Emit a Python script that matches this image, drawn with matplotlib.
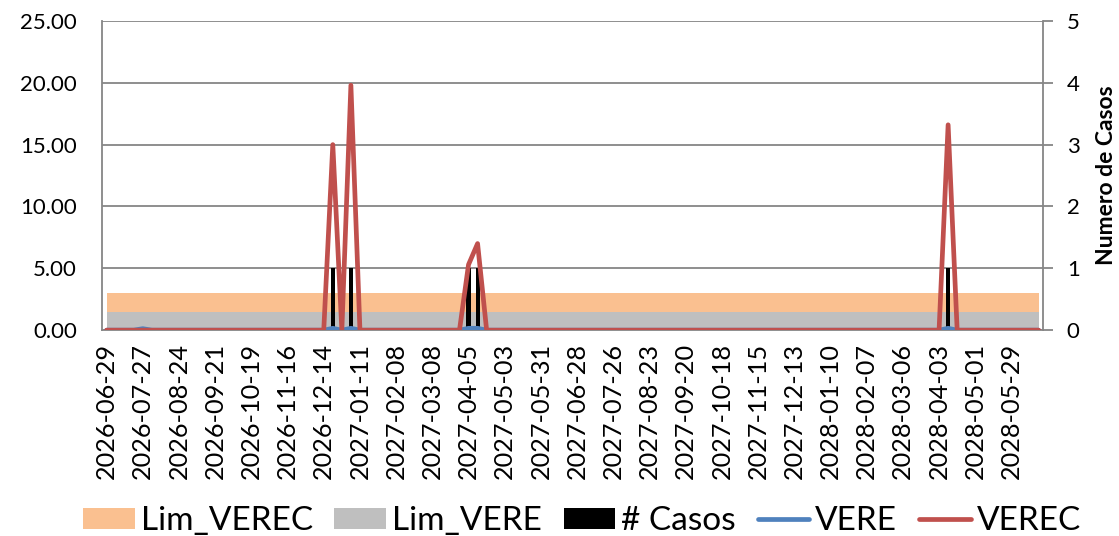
import matplotlib
matplotlib.use("Agg")
import matplotlib.pyplot as plt
from matplotlib.patches import Patch
from matplotlib.lines import Line2D
import numpy as np
import pandas as pd

plt.rcParams['font.family'] = ['Lato', 'DejaVu Sans']

# Weekly categories (104 weeks)
dates = pd.date_range('2026-06-29', periods=104, freq='7D').strftime('%Y-%m-%d').tolist()

# Limits (left axis)
lim_verec = [3.0] * 104
lim_vere = [1.5] * 104

# Number of cases (right axis)
casos = [0, 0, 0, 0, 0, 0, 0, 0, 0, 0, 0, 0, 0,
         0, 0, 0, 0, 0, 0, 0, 0, 0, 0, 0, 0, 1,
         0, 1, 0, 0, 0, 0, 0, 0, 0, 0, 0, 0, 0,
         0, 1, 1, 0, 0, 0, 0, 0, 0, 0, 0, 0, 0,
         0, 0, 0, 0, 0, 0, 0, 0, 0, 0, 0, 0, 0,
         0, 0, 0, 0, 0, 0, 0, 0, 0, 0, 0, 0, 0,
         0, 0, 0, 0, 0, 0, 0, 0, 0, 0, 0, 0, 0,
         0, 0, 1, 0, 0, 0, 0, 0, 0, 0, 0, 0, 0]

# VERE (left axis)
vere = [0, 0, 0, 0, 0.12, 0, 0, 0, 0, 0, 0, 0, 0,
        0, 0, 0, 0, 0, 0, 0, 0, 0, 0, 0, 0, 0.15,
        0, 0.15, 0, 0, 0, 0, 0, 0, 0, 0, 0, 0, 0,
        0, 0.15, 0.15, 0, 0, 0, 0, 0, 0, 0, 0, 0, 0,
        0, 0, 0, 0, 0, 0, 0, 0, 0, 0, 0, 0, 0,
        0, 0, 0, 0, 0, 0, 0, 0, 0, 0, 0, 0, 0,
        0, 0, 0, 0, 0, 0, 0, 0, 0, 0, 0, 0, 0,
        0, 0, 0.15, 0, 0, 0, 0, 0, 0, 0, 0, 0, 0]

# VEREC (left axis)
verec = [0, 0, 0, 0, 0, 0, 0, 0, 0, 0, 0, 0, 0,
         0, 0, 0, 0, 0, 0, 0, 0, 0, 0, 0, 0, 15.0,
         0, 19.8, 0, 0, 0, 0, 0, 0, 0, 0, 0, 0, 0,
         0, 5.3, 7.0, 0, 0, 0, 0, 0, 0, 0, 0, 0, 0,
         0, 0, 0, 0, 0, 0, 0, 0, 0, 0, 0, 0, 0,
         0, 0, 0, 0, 0, 0, 0, 0, 0, 0, 0, 0, 0,
         0, 0, 0, 0, 0, 0, 0, 0, 0, 0, 0, 0, 0,
         0, 0, 16.6, 0, 0, 0, 0, 0, 0, 0, 0, 0, 0]

c_orange = '#FAC090'
c_gray = '#BFBFBF'
c_blue = '#4F81BD'
c_red = '#C0504D'
c_axis = '#868686'

x = np.arange(len(dates))

fig = plt.figure(figsize=(11.19, 5.36), dpi=100)
ax = fig.add_axes([0.0912, 0.384, 0.841, 0.577])

# areas
ax.fill_between(x, 0, lim_verec, color=c_orange, linewidth=0, zorder=1)
ax.fill_between(x, 0, lim_vere, color=c_gray, linewidth=0, zorder=2)
ax.set_ylim(0, 25)
ax.set_yticks([0, 5, 10, 15, 20, 25])
ax.set_yticklabels([f'{v:.2f}' for v in [0, 5, 10, 15, 20, 25]])
ax.yaxis.grid(True, color=c_axis, linewidth=1.3)
ax.set_axisbelow(True)
ax.set_xlim(-0.5, 103.5)
ax.set_xticks(x[::4])
ax.set_xticklabels(dates[::4], rotation=90, ha='center', va='top')
ax.tick_params(axis='x', length=0, labelsize=18.2, pad=9)
ax.tick_params(axis='y', length=0, labelsize=16, pad=18)
for s in ['top', 'right']:
    ax.spines[s].set_visible(False)
ax.spines['left'].set_color(c_axis)
ax.spines['bottom'].set_color(c_axis)
ax.spines['left'].set_linewidth(1.3)
ax.spines['bottom'].set_linewidth(1.3)

# bars on secondary axis
ax2 = ax.twinx()
ax2.bar(x, casos, width=0.45, color='black', zorder=3)
ax2.set_ylim(0, 5)
ax2.set_yticks([0, 1, 2, 3, 4, 5])
ax2.tick_params(axis='y', length=7, width=1.3, color=c_axis, labelsize=16, pad=10)
ax2.set_ylabel('Numero de Casos', fontsize=16.5, fontweight='bold', labelpad=12)
for s in ['top', 'left', 'bottom']:
    ax2.spines[s].set_visible(False)
ax2.spines['right'].set_color(c_axis)
ax2.spines['right'].set_linewidth(1.3)

# lines on top, left scale
ax3 = ax.twinx()
ax3.set_ylim(0, 25)
ax3.plot(x, vere, color=c_blue, linewidth=3.4, solid_capstyle='round', solid_joinstyle='round')
ax3.plot(x, verec, color=c_red, linewidth=3.4, solid_capstyle='round', solid_joinstyle='round')
ax3.set_yticks([])
for s in ax3.spines.values():
    s.set_visible(False)

handles = [Patch(facecolor=c_orange, edgecolor='none'),
           Patch(facecolor=c_gray, edgecolor='none'),
           Patch(facecolor='black', edgecolor='none'),
           Line2D([0], [0], color=c_blue, linewidth=3.4, solid_capstyle='round'),
           Line2D([0], [0], color=c_red, linewidth=3.4, solid_capstyle='round')]
labels = ['Lim_VEREC', 'Lim_VERE', '# Casos', 'VERE', 'VEREC']
fig.legend(handles, labels, loc='center', bbox_to_anchor=(0.52, 0.028), ncol=5,
           frameon=False, fontsize=24, handlelength=1.55, handleheight=0.6,
           handletextpad=0.18, columnspacing=0.65, borderaxespad=0)

fig.savefig('out.png', dpi=100)
